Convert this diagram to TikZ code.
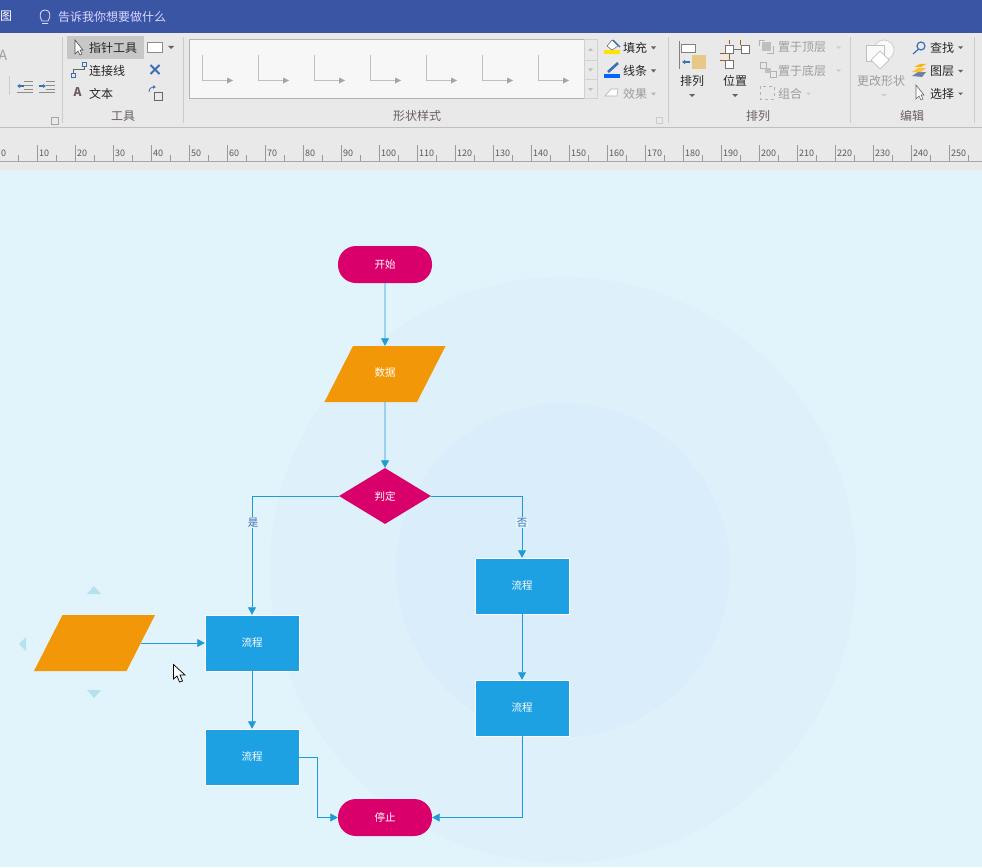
\documentclass[tikz,border=0pt]{standalone}
\usepackage{fontspec}
\setmainfont{Noto Sans CJK SC}
\usetikzlibrary{arrows.meta, shapes.geometric}
\definecolor{barblue}{HTML}{3B55A5}
\definecolor{ribbon}{HTML}{E9E9E9}
\definecolor{canvas}{HTML}{E1F3FB}
\definecolor{ringa}{HTML}{DEF0FA}
\definecolor{ringb}{HTML}{DAEDFA}
\definecolor{flowblue}{HTML}{1DA1E2}
\definecolor{wire}{HTML}{1F9AD6}
\definecolor{termred}{HTML}{D9006C}
\definecolor{dataorange}{HTML}{F29707}
\definecolor{handle}{HTML}{B4E3EF}
\definecolor{grouptxt}{HTML}{6B5E5E}
\definecolor{graytxt}{HTML}{9C9C9C}
\definecolor{iconblue}{HTML}{3B6FB5}
\definecolor{sandy}{HTML}{E8C887}
\tikzset{
 shape text/.style = {text = white, font = \fontsize{10.5}{12}\selectfont},
 terminal/.style = {shape text, fill = termred, rounded corners = 18pt, minimum width = 94pt, minimum height = 37pt, inner sep = 0},
 process/.style = {shape text, fill = flowblue, draw = white, line width = 0.5pt, minimum width = 94pt, minimum height = 56pt, inner sep = 0},
 decision/.style = {shape text, diamond, fill = termred, minimum width = 92pt, minimum height = 56pt, aspect = 1.64, inner sep = 0},
 data/.style = {shape text, trapezium, trapezium left angle = 63, trapezium right angle = 117, fill = dataorange, text width = 64pt, align = center, inner xsep = 0, inner ysep = 25pt, text height = 5pt, text depth = 1pt},
 flow/.style = {draw = wire, line width = 0.8pt, -{Triangle[length = 7.5pt, width = 8pt]}},
 flow label/.style = {shape text, text = iconblue, fill = canvas, inner sep = 1pt},
 tool/.style = {font = \fontsize{12}{14}\selectfont, text = black!85, inner sep = 0},
 tool off/.style = {tool, text = graytxt},
 group/.style = {tool, text = grouptxt},
 tick num/.style = {font = \fontsize{9}{10}\selectfont, text = black!65, inner sep = 0, anchor = west},
 sep/.style = {draw = black!20, line width = 0.8pt},
 icon/.style = {draw = iconblue, line width = 0.8pt},
}
\begin{document}
\begin{tikzpicture}[x = 1pt, y = -1pt]
 \useasboundingbox (0,0) rectangle (982,867);
 \clip (0,0) rectangle (982,867);
 % canvas and rings
 \fill[canvas] (0,170) rectangle (982,867);
 \fill[ringa] (563,570) circle (293);
 \fill[ringb] (563,570) circle (167);
 % title bar, ribbon and ruler
 \fill[barblue] (0,0) rectangle (982,33);
 \fill[ribbon] (0,33) rectangle (982,170);
 \draw[black!25, line width = 0.8pt] (0,127.5) -- (982,127.5);
 \draw[black!35, line width = 0.8pt] (0,161.5) -- (982,161.5);
 \foreach \n in {0,1,...,25}{
  \draw[black!40, line width = 0.6pt] (38*\n-0.3,145) -- (38*\n-0.3,161);
  \draw[black!40, line width = 0.6pt] (38*\n+18.7,155) -- (38*\n+18.7,161);
  \pgfmathtruncatemacro{\lab}{\n*10}
  \node[tick num] (tick\n) at (38*\n+1,153) {\lab};
 }
 \foreach \x in {62.7,183,668,850,974}
  \draw[sep] (\x,37) -- (\x,123);

 \node[tool, text = white] (tabname) at (6,16) {图};
 \node[tool, text = blue!15!white] (tellme) at (112,17) {告诉我你想要做什么};
 \draw[blue!15!white, line width = 0.8pt] (42,21) .. controls (38,14) and (41,10) .. (45,10) .. controls (49,10) and (52,14) .. (48,21) -- cycle (42,23.5) -- (48,23.5);

 % cut-off font and paragraph group
 \node[tool off, font = \fontsize{14}{16}\selectfont] (fontA) at (3,55) {A};
 \draw[sep] (9.5,76) -- (9.5,95);
 \foreach \x in {17,39}{
  \draw[black!45, line width = 0.7pt] (\x+7,81) -- (\x+16,81) (\x+7,85) -- (\x+16,85) (\x+7,89) -- (\x+16,89) (\x,92) -- (\x+16,92);
 }
 \draw[iconblue, line width = 1.1pt, -{Latex[length = 3pt, width = 4.5pt]}] (24,86) -- (17,86);
 \draw[iconblue, line width = 1.1pt, -{Latex[length = 3pt, width = 4.5pt]}] (39,86) -- (46,86);
 \draw[black!35, line width = 0.6pt] (51,117) rectangle (58,124);

 % tools group
 \fill[black!22] (67,36) rectangle (144,59);
 \draw[black!70, fill = white, line width = 0.6pt] (75,40) -- (75,54) -- (78,51) -- (80,55) -- (82,54) -- (80,50) -- (83,50) -- cycle;
 \node[tool] (pointer) at (113,47.5) {指针工具};
 \node[tool] (linker) at (107,71) {连接线};
 \node[tool] (textlab) at (101,93.5) {文本};
 \node[tool, text = grouptxt, font = \fontsize{12}{14}\bfseries] (textA) at (77.5,92.5) {A};
 \node[group] (toolsgrp) at (123,116) {工具};
 \draw[black!60, line width = 0.6pt] (73,73) -- (73,69.5) -- (84,69.5) -- (84,66.5);
 \draw[icon] (71,73) rectangle (75,77) (82,62.5) rectangle (86,66.5);
 \draw[black!45, fill = white, line width = 0.7pt] (147.5,42) rectangle (162.5,52.5);
 \fill[grouptxt] (168,46) -- (174,46) -- (171,49) -- cycle;
 \draw[iconblue, line width = 1.8pt] (150.5,65) -- (159.5,74) (159.5,65) -- (150.5,74);
 \draw[black!60, line width = 0.6pt] (154,92) rectangle (162,100);
 \draw[icon, -{Latex[length = 3pt, width = 4pt]}] (149,92) .. controls (149,88) and (152,87) .. (156,87);

 % gallery
 \draw[black!30, fill = black!3, line width = 0.7pt] (189.5,39.5) rectangle (584,98.5);
 \foreach \x in {202,258,...,538}{
  \draw[black!25, line width = 1pt] (\x,55) -- (\x,80.5) -- (\x+26,80.5);
  \fill[black!35] (\x+25,77.5) -- (\x+31,80.5) -- (\x+25,83.5) -- cycle;
 }
 \draw[black!18, line width = 0.7pt] (584,39.5) rectangle (597,98.5) (584,60) -- (597,60) (584,79) -- (597,79);
 \fill[black!25] (588,51) -- (593,51) -- (590.5,48) -- cycle;
 \fill[black!25] (588,68.5) -- (593,68.5) -- (590.5,71.5) -- cycle;
 \fill[black!25] (588,88) -- (593,88) -- (590.5,91) -- cycle;
 \node[group] (stylegrp) at (417,116) {形状样式};

 % fill, line, effect
 \fill[yellow!85!orange] (604,50) rectangle (620,54);
 \draw[black!55, fill = white, line width = 0.6pt] (607,46) -- (612,40) -- (618,46) -- (612,50) -- cycle;
 \draw[iconblue, line width = 1.2pt] (613,40) -- (620,47);
 \node[tool] (fillbtn) at (635,47.5) {填充};
 \fill[blue!60!cyan] (604,74) rectangle (620,78);
 \draw[iconblue, line width = 2.6pt] (608,72) -- (618,63);
 \node[tool] (linebtn) at (635,71) {线条};
 \draw[black!30, fill = white, line width = 0.6pt] (605,96) -- (611,89) -- (618,89) -- (617,96) -- cycle;
 \node[tool off] (effectbtn) at (635,93.5) {效果};
 \fill[grouptxt] (651,46.5) -- (656,46.5) -- (653.5,49.5) -- cycle;
 \fill[grouptxt] (651,69.5) -- (656,69.5) -- (653.5,72.5) -- cycle;
 \fill[black!30] (651,92.5) -- (656,92.5) -- (653.5,95.5) -- cycle;
 \draw[black!20, line width = 0.6pt] (656,117) rectangle (662,123);

 % arrange group
 \draw[black!50, line width = 0.6pt] (679.5,41) -- (679.5,69);
 \draw[black!50, fill = white, line width = 0.6pt] (681,44) rectangle (695,52);
 \fill[sandy] (692,55) rectangle (706,69);
 \draw[iconblue, line width = 1.2pt, -{Latex[length = 3pt, width = 5pt]}] (690,62) -- (682,62);
 \node[tool] (orderbtn) at (692,80.5) {排列};
 \fill[grouptxt] (689,94) -- (695,94) -- (692,97) -- cycle;
 \draw[orange!70!black, line width = 0.6pt] (729.5,40) -- (729.5,44) (729.5,54) -- (729.5,60) (720,53) -- (725,53) (720,60) -- (729.5,60) (740,40) -- (740,45);
 \draw[black!55, fill = white, line width = 0.6pt] (725,45) rectangle (733,53) (741,45) rectangle (749,53) (725,60) rectangle (733,68) (733,49) -- (741,49);
 \node[tool] (placebtn) at (735,80.5) {位置};
 \fill[grouptxt] (732,94) -- (738,94) -- (735,97) -- cycle;
 \draw[black!30, line width = 0.6pt] (759,46) -- (759,40) -- (765,40) (773,46) -- (773,53) -- (767,53);
 \fill[black!25] (762,42) rectangle (771,51);
 \node[tool off] (topbtn) at (802,47.5) {置于顶层};
 \draw[black!30, line width = 0.6pt] (760,62) rectangle (766,68) (770,71) rectangle (776,77);
 \fill[black!25] (765,68) rectangle (771,73);
 \node[tool off] (bottombtn) at (802,71) {置于底层};
 \draw[black!30, dashed, line width = 0.8pt] (760,86) rectangle (774,99);
 \node[tool off] (groupbtn) at (790,93.5) {组合};
 \foreach \y in {47,70}
  \fill[black!20] (836,\y-0.5) -- (841,\y-0.5) -- (838.5,\y+2) -- cycle;
 \fill[black!20] (806,92.5) -- (811,92.5) -- (808.5,95) -- cycle;
 \node[group] (arrangegrp) at (758,116) {排列};

 % edit group
 \draw[black!20, fill = black!2, line width = 0.7pt] (884,50) circle (10);
 \draw[black!25, fill = black!2, line width = 0.7pt] (866,45) rectangle (884,61);
 \draw[black!25, fill = white, line width = 0.7pt] (880,51) -- (889,60) -- (880,69) -- (871,60) -- cycle;
 \node[tool off] (shapebtn) at (881,80.5) {更改形状};
 \fill[black!20] (881,94) -- (887,94) -- (884,96.5) -- cycle;
 \draw[iconblue, line width = 1.2pt] (921,46) circle (4) (918,49.5) -- (913,54);
 \node[tool] (findbtn) at (942,47.5) {查找};
 \fill[iconblue!70!black!70] (912,76) -- (918,72) -- (926,72) -- (922,77) -- cycle;
 \fill[orange!60!yellow!80!white] (912,72) -- (918,68) -- (926,68) -- (921,72) -- cycle;
 \fill[orange!60!yellow] (914,67) -- (920,64) -- (926,64) -- (921,67) -- cycle;
 \node[tool] (layerbtn) at (942,71) {图层};
 \draw[black!60, fill = white, line width = 0.6pt] (916,85) -- (916,99) -- (919,96) -- (921,100) -- (923,99) -- (921,95) -- (924,95) -- cycle;
 \node[tool] (selectbtn) at (942,93.5) {选择};
 \foreach \y in {46.5,70,92.5}
  \fill[grouptxt] (958,\y) -- (963,\y) -- (960.5,\y+2.5) -- cycle;
 \node[group] (editgrp) at (912,116) {编辑};

 % flowchart
 \node[terminal] (start) at (385,264.5) {\raisebox{1pt}{开始}};
 \node[data] (input) at (385,374) {数据};
 \node[decision] (check) at (385,496) {判定};
 \node[process] (procA) at (252,643) {\raisebox{1pt}{流程}};
 \node[process] (procB) at (252,757) {\raisebox{1pt}{流程}};
 \node[process] (procC) at (522,586) {\raisebox{1pt}{流程}};
 \node[process] (procD) at (522,708) {\raisebox{1pt}{流程}};
 \node[terminal] (stop) at (385,817.5) {\raisebox{1pt}{停止}};
 \node[data] (moved) at (94.5,643) {};
 \draw[flow] (start) -- (input);
 \draw[flow] (input) -- (check);
 \draw[flow] (check.west) -| (procA.north) node[flow label, pos = 0.613, xshift = 1pt] (yes) {是};
 \draw[flow] (check.east) -| (procC.north) node[flow label, pos = 0.718] (no) {否};
 \draw[flow] (procA) -- (procB);
 \draw[flow] (procC) -- (procD);
 \draw[flow] (moved.east) -- (moved.east -| procA.west);
 \draw[flow] (procB.east) -- ++(18,0) |- (stop.west);
 \draw[flow] (procD.south) |- (stop.east);

 % drag handles and cursor
 \fill[handle] (94,586) -- (101,594) -- (87,594) -- cycle;
 \fill[handle] (94,698) -- (101,690) -- (87,690) -- cycle;
 \fill[handle] (19,644) -- (26,637) -- (26,651) -- cycle;
 \draw[black, fill = white, line width = 0.7pt] (173.5,664.5) -- (173.5,679) -- (177,676) -- (179.5,682) -- (182.5,681) -- (180,675) -- (185,675) -- cycle;
\end{tikzpicture}
\end{document}
